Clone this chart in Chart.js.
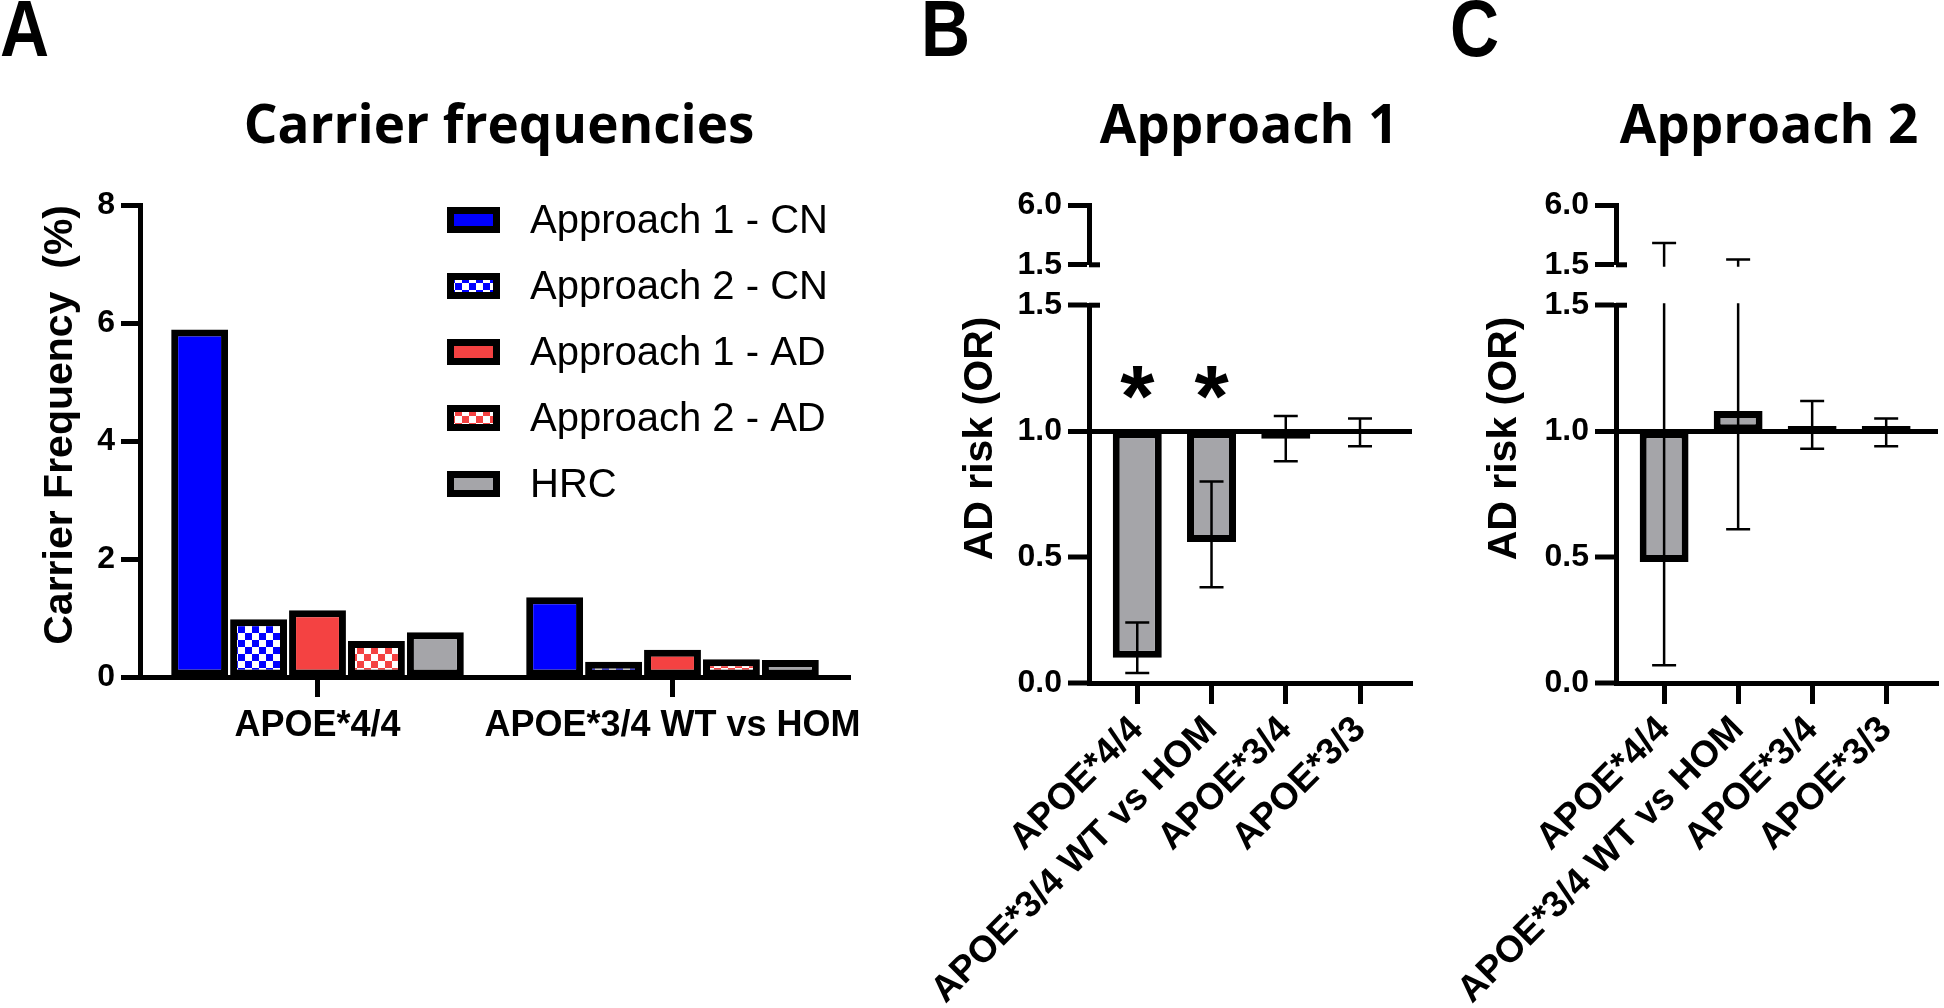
<!DOCTYPE html>
<html>
<head>
<meta charset="utf-8">
<script src="https://cdn.jsdelivr.net/npm/chart.js@4.4.0/dist/chart.umd.min.js"></script>
<style>
  html, body { margin: 0; padding: 0; background: #fff; }
  body { width: 1944px; height: 1008px; position: relative; overflow: hidden; font-family: "Liberation Sans", Arial, sans-serif; }
  canvas { position: absolute; }
  .letter { position: absolute; font-family: "Liberation Sans", sans-serif; font-weight: bold; font-size: 80px; line-height: 80px; transform: scaleX(0.85); transform-origin: left top; }
  .title { position: absolute; width: 600px; font-family: "Open Sans", sans-serif; font-weight: bold; font-size: 53px; line-height: 60px; text-align: center; white-space: nowrap; }
</style>
</head>
<body>
<div class="letter" style="left:0px;top:-11px">A</div>
<div class="letter" style="left:921px;top:-11px">B</div>
<div class="letter" style="left:1450px;top:-11px">C</div>
<div class="title" style="left:199px;top:93px">Carrier frequencies</div>
<div class="title" style="left:949px;top:93px">Approach 1</div>
<div class="title" style="left:1469px;top:93px">Approach 2</div>

<canvas id="cA" width="900" height="627" style="left:0;top:150px"></canvas>
<canvas id="cBup" width="500" height="110" style="left:930px;top:180px"></canvas>
<canvas id="cB" width="500" height="728" style="left:930px;top:280px"></canvas>
<canvas id="cCup" width="484" height="110" style="left:1460px;top:180px"></canvas>
<canvas id="cC" width="484" height="728" style="left:1460px;top:280px"></canvas>

<script>
// panel A: carrier frequencies (%)
const catsA = ['APOE*4/4', 'APOE*3/4 WT vs HOM'];
const seriesA = ['Approach 1 - CN', 'Approach 2 - CN', 'Approach 1 - AD', 'Approach 2 - AD', 'HRC'];
const app1CN = [5.89, 1.35];
const app2CN = [0.98, 0.26];
const app1AD = [1.13, 0.46];
const app2AD = [0.61, 0.30];
const hrcFreq = [0.76, 0.29];
const yTicksA = [0, 2, 4, 6, 8];

// panels B and C: odds ratios with CI
const catsOR = ['APOE*4/4', 'APOE*3/4 WT vs HOM', 'APOE*3/4', 'APOE*3/3'];
const or1 = [0.10, 0.56, 0.97, 1.00];
const or1Low = [0.04, 0.38, 0.88, 0.94];
const or1High = [0.24, 0.80, 1.06, 1.05];
const or1Sig = ['*', '*', '', ''];
const or2 = [0.48, 1.08, 1.02, 1.02];
const or2Low = [0.07, 0.61, 0.93, 0.94];
const or2High = [3.15, 1.90, 1.12, 1.05];
const or2Sig = ['', '', '', ''];
const orBase = 1.0;
const lowerTicks = [0, 0.5, 1.0, 1.5];
const upperTicks = [1.5, 6.0];

Chart.defaults.font.family = '"Liberation Sans", Arial, sans-serif';
Chart.defaults.color = '#000';

function checker(color) {
  const c = document.createElement('canvas');
  c.width = 14; c.height = 14;
  const g = c.getContext('2d');
  g.fillStyle = '#fff'; g.fillRect(0, 0, 14, 14);
  g.fillStyle = color; g.fillRect(0, 0, 7, 7); g.fillRect(7, 7, 7, 7);
  return g.createPattern(c, 'repeat');
}

const BLUE = '#0000ff', RED = '#f44242', GREY = '#a5a5a9';

const legendBoxes = {
  id: 'legendBoxes',
  afterDraw(chart) {
    const {ctx, chartArea: a} = chart;
    ctx.save();
    chart.data.datasets.forEach((ds, i) => {
      const bx = a.left + 307, by = a.top + 2 + i * 66;
      ctx.fillStyle = '#000';
      ctx.fillRect(bx, by, 53, 26);
      ctx.fillStyle = ds.backgroundColor;
      ctx.fillRect(bx + 7, by + 7, 39, 12);
      ctx.fillStyle = '#000';
      ctx.font = '40px "Liberation Sans"';
      ctx.textBaseline = 'alphabetic';
      ctx.fillText(ds.label, a.left + 390, by + 26);
    });
    ctx.restore();
  }
};

function errorBars(low, high) {
  return {
    id: 'errorBars',
    afterDatasetsDraw(chart) {
      const {ctx, chartArea: a, scales: {x, y}} = chart;
      ctx.save();
      ctx.beginPath();
      ctx.rect(a.left, a.top - 2, a.right - a.left, a.bottom - a.top + 4);
      ctx.clip();
      ctx.strokeStyle = '#000';
      ctx.lineWidth = 2.5;
      high.forEach((hi, i) => {
        const px = x.getPixelForValue(i);
        const top = y.getPixelForValue(hi);
        const bot = y.getPixelForValue(low[i]);
        ctx.beginPath();
        ctx.moveTo(px, top); ctx.lineTo(px, bot);
        ctx.moveTo(px - 12, top); ctx.lineTo(px + 12, top);
        ctx.moveTo(px - 12, bot); ctx.lineTo(px + 12, bot);
        ctx.stroke();
      });
      ctx.restore();
    }
  };
}

// little caps on the inside of the axis at the break (1.5)
function breakCap(val) {
  return {
    id: 'breakCap',
    afterDraw(chart) {
      const {ctx, chartArea: a, scales: {y}} = chart;
      const py = y.getPixelForValue(val);
      ctx.save();
      ctx.strokeStyle = '#000';
      ctx.lineWidth = 5;
      ctx.beginPath();
      ctx.moveTo(a.left, py); ctx.lineTo(a.left + 11, py);
      ctx.stroke();
      ctx.restore();
    }
  };
}

function stars(sig) {
  return {
    id: 'stars',
    afterDatasetsDraw(chart) {
      const {ctx, scales: {x, y}} = chart;
      ctx.save();
      ctx.font = 'bold 88px "Liberation Sans"';
      ctx.textAlign = 'center';
      ctx.textBaseline = 'alphabetic';
      ctx.fillStyle = '#000';
      sig.forEach((s, i) => {
        if (s) ctx.fillText(s, x.getPixelForValue(i), y.getPixelForValue(orBase) - 5);
      });
      ctx.restore();
    }
  };
}

new Chart(document.getElementById('cA'), {
  type: 'bar',
  data: {
    labels: catsA,
    datasets: [
      {label: seriesA[0], data: app1CN, backgroundColor: BLUE},
      {label: seriesA[1], data: app2CN, backgroundColor: checker(BLUE)},
      {label: seriesA[2], data: app1AD, backgroundColor: RED},
      {label: seriesA[3], data: app2AD, backgroundColor: checker(RED)},
      {label: seriesA[4], data: hrcFreq, backgroundColor: GREY}
    ]
  },
  options: {
    responsive: false,
    animation: false,
    layout: {padding: {top: 55, right: 50, bottom: 0, left: 0}},
    datasets: {bar: {borderColor: '#000', borderWidth: 7, borderSkipped: false, categoryPercentage: 0.83, barPercentage: 0.965}},
    plugins: {legend: {display: false}, tooltip: {enabled: false}},
    scales: {
      x: {
        grid: {drawOnChartArea: false, offset: false, tickLength: 20, tickWidth: 5, tickColor: '#000'},
        border: {width: 5, color: '#000'},
        ticks: {color: '#000', autoSkip: false, font: {size: 36, weight: 'bold'}, padding: 7, maxRotation: 0},
        afterFit: s => { s.height = 100; }
      },
      y: {
        min: 0, max: 8,
        afterBuildTicks: s => { s.ticks = yTicksA.map(v => ({value: v})); },
        grid: {drawOnChartArea: false, tickLength: 19, tickWidth: 5, tickColor: '#000'},
        border: {width: 5, color: '#000'},
        ticks: {color: '#000', font: {size: 32, weight: 'bold'}, padding: 6},
        title: {display: true, text: 'Carrier Frequency  (%)', align: 'end', color: '#000',
                font: {size: 41, weight: 'bold'}, padding: {top: 36, bottom: 0}},
        afterFit: s => { s.width = 140; }
      }
    }
  },
  plugins: [legendBoxes]
});

function orPanel(upId, lowId, vals, low, high, sig, yWidth, rightPad, titlePad) {
  const xOpts = show => ({
    type: 'linear', min: -0.65, max: 3.7, display: show, offset: false,
    afterBuildTicks: s => { s.ticks = catsOR.map((c, i) => ({value: i})); },
    grid: {drawOnChartArea: false, offset: false, tickLength: 21, tickWidth: 5, tickColor: '#000'},
    border: {width: 5, color: '#000'},
    ticks: {color: '#000', autoSkip: false, maxRotation: 45, minRotation: 45,
            font: {size: 37, weight: 'bold'}, padding: 4, callback: (v, i) => catsOR[i]},
    afterFit: s => { s.height = show ? 325 : 0; s.paddingLeft = 0; s.paddingRight = 0; }
  });
  const yTick = {color: '#000', font: {size: 32, weight: 'bold'}, padding: 6, callback: v => v.toFixed(1)};

  new Chart(document.getElementById(upId), {
    type: 'bar',
    data: {datasets: []},
    options: {
      responsive: false, animation: false,
      layout: {padding: {top: 24, right: rightPad, bottom: 23, left: 0}},
      plugins: {legend: {display: false}, tooltip: {enabled: false}},
      scales: {
        x: xOpts(false),
        y: {
          min: upperTicks[0], max: upperTicks[upperTicks.length - 1],
          afterBuildTicks: s => { s.ticks = upperTicks.map(v => ({value: v})); },
          grid: {drawOnChartArea: false, tickLength: 21, tickWidth: 5, tickColor: '#000'},
          border: {width: 5, color: '#000'},
          ticks: yTick,
          afterFit: s => { s.width = yWidth; }
        }
      }
    },
    plugins: [errorBars(low, high), breakCap(upperTicks[0])]
  });

  new Chart(document.getElementById(lowId), {
    type: 'bar',
    data: {
      datasets: [{
        data: vals.map((v, i) => ({x: i, y: [orBase, v]})),
        backgroundColor: GREY, borderColor: '#000', borderWidth: 7, borderSkipped: false,
        barPercentage: 0.66, categoryPercentage: 1
      }]
    },
    options: {
      responsive: false, animation: false,
      layout: {padding: {top: 23, right: rightPad, bottom: 0, left: 0}},
      plugins: {legend: {display: false}, tooltip: {enabled: false}},
      scales: {
        x: xOpts(true),
        y: {
          min: lowerTicks[0], max: lowerTicks[lowerTicks.length - 1],
          afterBuildTicks: s => { s.ticks = lowerTicks.map(v => ({value: v})); },
          grid: {
            color: c => (c.tick && c.tick.value === orBase) ? '#000' : 'rgba(0,0,0,0)',
            lineWidth: c => (c.tick && c.tick.value === orBase) ? 5 : 0,
            tickLength: 21, tickWidth: 5, tickColor: '#000'
          },
          border: {width: 5, color: '#000'},
          ticks: yTick,
          title: {display: true, text: 'AD risk (OR) ', align: 'end', color: '#000',
                  font: {size: 41, weight: 'bold'}, padding: {top: titlePad, bottom: 0}},
          afterFit: s => { s.width = yWidth; }
        }
      }
    },
    plugins: [errorBars(low, high), stars(sig), breakCap(lowerTicks[lowerTicks.length - 1])]
  });
}

orPanel('cBup', 'cB', or1, or1Low, or1High, or1Sig, 159, 18, 26);
orPanel('cCup', 'cC', or2, or2Low, or2High, or2Sig, 156, 6, 20);
</script>
</body>
</html>
